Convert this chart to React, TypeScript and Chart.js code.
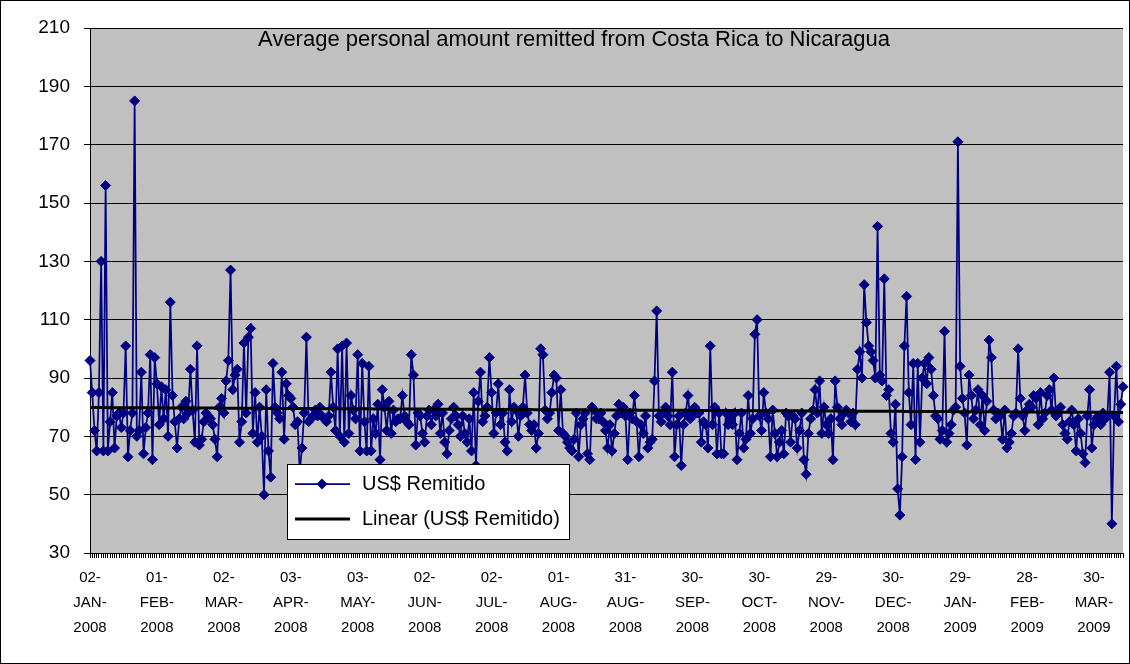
import React, { useEffect, useRef } from 'react';
import { Chart, registerables } from 'chart.js';

Chart.register(...registerables);

const seriesLabel = 'US$ Remitido';
const trendLabel = 'Linear (US$ Remitido)';
const titleText = 'Average personal amount remitted from Costa Rica to Nicaragua';

const tickLabels = [
  '02-JAN-2008', '01-FEB-2008', '02-MAR-2008', '03-APR-2008', '03-MAY-2008', '02-JUN-2008',
  '02-JUL-2008', '01-AUG-2008', '31-AUG-2008', '30-SEP-2008', '30-OCT-2008', '29-NOV-2008',
  '30-DEC-2008', '29-JAN-2009', '28-FEB-2009', '30-MAR-2009',
];
const labelEvery = 30;

const yMin = 30;
const yMax = 210;
const yStep = 20;

// daily values, in segments
const segA = [96, 85, 72, 65, 85, 130, 65, 156, 65, 75, 85, 66, 77, 78, 73, 78, 101, 63, 72, 78, 185, 70, 72, 92, 64, 73, 78, 98, 62, 97, 88, 74, 87, 76, 86, 70, 116];
const segB = [84, 75, 66, 76, 80, 76, 82, 78, 93, 79, 68, 101, 67, 69, 75, 78, 77, 76, 74, 69, 63, 80, 83, 78, 89, 96, 127, 86, 91, 93, 68, 75, 102, 78, 104, 107, 71, 85, 68];
const segC = [80, 70, 50, 86, 65, 56, 95, 80, 78, 76, 92, 69, 88, 84, 83, 80, 74, 75, 58, 66, 78, 104, 75, 76, 77, 79, 77, 80, 77, 76, 75, 77, 92, 80, 72, 100, 70, 101, 68];
const segD = [102, 71, 84, 79, 76, 98, 65, 95, 75, 65, 94, 65, 76, 71, 81, 62, 86, 80, 72, 82, 71, 79, 75, 76, 76, 84, 77, 75, 74, 98, 91, 67, 78, 77, 71, 68, 77, 79, 74];
const segE = [79, 77, 81, 71, 78, 68, 64, 72, 76, 80, 77, 74, 70, 77, 71, 68, 76, 65, 85, 60, 82, 92, 75, 77, 80, 97, 85, 71, 78, 88, 74, 78, 68, 65, 86, 75, 80, 79, 70];
const segF = [77, 80, 91, 78, 74, 72, 74, 66, 71, 100, 98, 79, 76, 78, 85, 91, 90, 72, 86, 71, 70, 68, 66, 65, 69, 78, 63, 74, 76, 78, 64, 62, 80, 79, 76, 76, 78, 75, 72];
const segG = [66, 74, 65, 71, 77, 81, 78, 80, 77, 62, 78, 76, 84, 75, 63, 74, 71, 77, 66, 68, 69, 89, 113, 77, 75, 78, 80, 77, 74, 92, 63, 74, 77, 60, 74, 78, 84, 76, 77];
const segH = [80, 78, 78, 68, 75, 74, 66, 101, 74, 80, 64, 78, 64, 64, 78, 74, 77, 74, 78, 62, 71, 78, 66, 69, 84, 71, 76, 105, 110, 77, 72, 85, 78, 76, 63, 79, 71, 63, 68];
const segI = [72, 64, 78, 77, 68, 77, 76, 66, 72, 78, 62, 57, 71, 76, 79, 86, 78, 89, 71, 80, 74, 71, 76, 62, 89, 80, 76, 74, 78, 79, 78, 75, 78, 74, 93, 99, 90, 122, 109];
const segJ = [101, 99, 96, 90, 142, 91, 89, 124, 84, 86, 71, 68, 81, 52, 43, 63, 101, 118, 85, 74, 95, 62, 95, 68, 90, 95, 88, 97, 93, 84, 77, 76, 69, 72, 106, 68, 71, 74, 79];
const segK = [80, 171, 94, 83, 78, 67, 91, 84, 76, 79, 86, 74, 84, 72, 82, 103, 97, 79, 76, 78, 77, 69, 79, 66, 68, 71, 77, 78, 100, 83, 77, 72, 79, 81, 80, 84, 83, 74, 85];
const segL = [76, 78, 84, 86, 79, 90, 77, 78, 80, 74, 71, 69, 75, 79, 74, 65, 76, 71, 64, 61, 77, 86, 66, 74, 76, 77, 74, 78, 76, 77, 92, 40, 77, 94, 75, 81, 87];

const values: number[] = [
  ...segA, ...segB, ...segC, ...segD, ...segE, ...segF,
  ...segG, ...segH, ...segI, ...segJ, ...segK, ...segL,
];

const categories: string[] = values.map((_, i) =>
  i % labelEvery === 0 && tickLabels[i / labelEvery] ? tickLabels[i / labelEvery] : ''
);

// least-squares linear trend (Excel "Linear" trendline)
function linearTrend(v: number[]): number[] {
  const n = v.length;
  let sx = 0, sy = 0, sxx = 0, sxy = 0;
  v.forEach((y, i) => {
    const x = i + 1;
    sx += x; sy += y; sxx += x * x; sxy += x * y;
  });
  const b = (n * sxy - sx * sy) / (n * sxx - sx * sx);
  const a = (sy - b * sx) / n;
  return v.map((_, i) => a + b * (i + 1));
}
const trend = linearTrend(values);

const FONT = "'Liberation Sans', Arial, sans-serif";
const NAVY = '#000080';

function drawDiamond(ctx: CanvasRenderingContext2D, x: number, y: number, r: number) {
  ctx.beginPath();
  ctx.moveTo(x, y - r);
  ctx.lineTo(x + r, y);
  ctx.lineTo(x, y + r);
  ctx.lineTo(x - r, y);
  ctx.closePath();
  ctx.fill();
}

const backgroundPlugin = {
  id: 'excelBackground',
  beforeDraw(chart: any) {
    const { ctx, chartArea, width, height } = chart;
    ctx.save();
    ctx.fillStyle = '#ffffff';
    ctx.fillRect(0, 0, width, height);
    ctx.fillStyle = '#C0C0C0';
    ctx.fillRect(chartArea.left, chartArea.top, chartArea.right - chartArea.left, chartArea.bottom - chartArea.top);
    ctx.restore();
  },
};

const overlayPlugin = {
  id: 'excelOverlay',
  afterDraw(chart: any) {
    const { ctx, width, height } = chart;
    const ds = chart.data.datasets;
    ctx.save();
    // title inside plot
    ctx.fillStyle = '#000';
    ctx.font = `22px ${FONT}`;
    ctx.textAlign = 'center';
    ctx.textBaseline = 'middle';
    ctx.fillText(titleText, 574, 40);

    // legend box
    const lx = 287, ly = 464, lw = 282, lh = 75;
    ctx.fillStyle = '#fff';
    ctx.fillRect(lx, ly, lw, lh);
    ctx.strokeStyle = '#000';
    ctx.lineWidth = 1;
    ctx.strokeRect(lx + 0.5, ly + 0.5, lw, lh);

    // item 1
    const r1 = 484;
    ctx.strokeStyle = ds[0].borderColor;
    ctx.lineWidth = 1.75;
    ctx.beginPath();
    ctx.moveTo(295, r1);
    ctx.lineTo(350, r1);
    ctx.stroke();
    ctx.fillStyle = ds[0].pointBackgroundColor;
    drawDiamond(ctx, 322, r1, 5.5);

    // item 2
    const r2 = 519;
    ctx.strokeStyle = ds[1].borderColor;
    ctx.lineWidth = 3;
    ctx.beginPath();
    ctx.moveTo(295, r2);
    ctx.lineTo(350, r2);
    ctx.stroke();

    ctx.fillStyle = '#000';
    ctx.font = `20px ${FONT}`;
    ctx.textAlign = 'left';
    ctx.textBaseline = 'middle';
    ctx.fillText(ds[0].label, 362, r1);
    ctx.fillText(ds[1].label, 362, r2);

    // outer chart border
    ctx.strokeStyle = '#000';
    ctx.lineWidth = 1;
    ctx.strokeRect(0.5, 0.5, width - 1, height - 1);
    ctx.restore();
  },
};

function splitLabel(l: string): string[] {
  return l.match(/[^-]+-?/g) || [l];
}

export default function App() {
  const canvasRef = useRef<HTMLCanvasElement | null>(null);

  useEffect(() => {
    const canvas = canvasRef.current;
    if (!canvas) return;
    const chart = new Chart(canvas, {
      type: 'line',
      data: {
        labels: categories,
        datasets: [
          {
            label: seriesLabel,
            data: values,
            borderColor: NAVY,
            backgroundColor: NAVY,
            borderWidth: 1.75,
            pointStyle: 'rectRot',
            pointRadius: 5,
            pointBorderWidth: 1,
            pointBackgroundColor: NAVY,
            pointBorderColor: NAVY,
            tension: 0,
            order: 1,
          } as any,
          {
            label: trendLabel,
            data: trend,
            borderColor: '#000000',
            backgroundColor: '#000000',
            borderWidth: 3,
            pointRadius: 0,
            tension: 0,
            order: 0,
          } as any,
        ],
      },
      options: {
        responsive: false,
        animation: false,
        events: [],
        layout: { padding: { top: 28, right: 2, left: 0, bottom: 0 } },
        plugins: {
          legend: { display: false },
          title: { display: false },
          tooltip: { enabled: false },
        },
        scales: {
          x: {
            type: 'category',
            offset: false,
            grid: {
              display: true,
              drawOnChartArea: false,
              drawTicks: true,
              tickLength: 5,
              color: '#000',
              lineWidth: 1,
            },
            border: { display: true, color: '#000', width: 1 },
            ticks: {
              autoSkip: false,
              maxRotation: 0,
              minRotation: 0,
              padding: 7,
              color: '#000',
              font: { family: FONT, size: 15, lineHeight: 25 / 15 },
              callback: (_v: any, i: number) => {
                const l = categories[i];
                return l ? splitLabel(l) : '';
              },
            },
            afterFit: (s: any) => {
              s.height = 111;
            },
          },
          y: {
            min: yMin,
            max: yMax,
            ticks: {
              stepSize: yStep,
              padding: 14,
              color: '#000',
              font: { family: FONT, size: 19 },
            },
            grid: { color: '#000', lineWidth: 1, drawTicks: true, tickLength: 6 },
            border: { display: true, color: '#000', width: 1 },
            afterFit: (s: any) => {
              s.width = 90;
            },
          },
        },
      } as any,
      plugins: [backgroundPlugin, overlayPlugin],
    });
    return () => chart.destroy();
  }, []);

  return (
    <div style={{ position: 'fixed', left: 0, top: 0, width: 1130, height: 664, background: '#fff' }}>
      <canvas ref={canvasRef} width={1130} height={664} style={{ display: 'block' }} />
    </div>
  );
}
